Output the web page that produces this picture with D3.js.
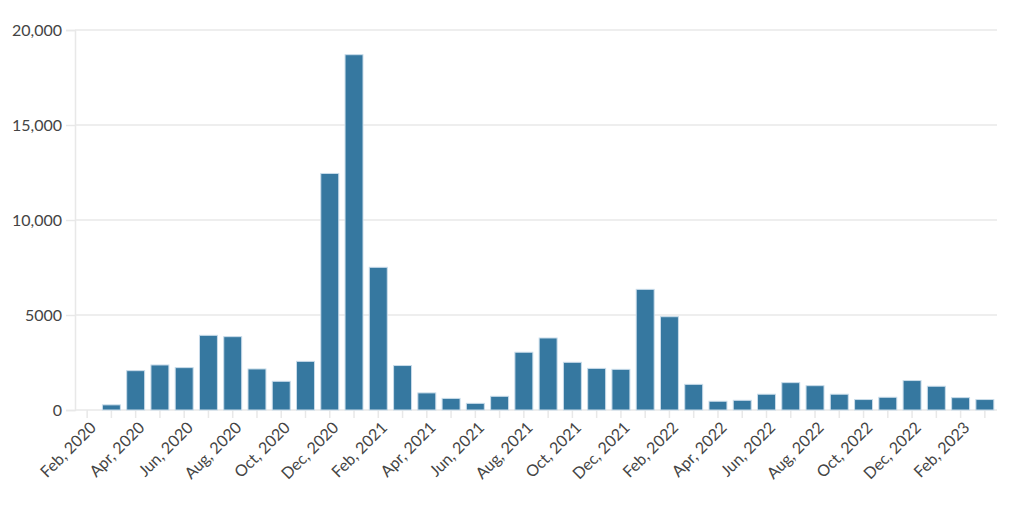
<!DOCTYPE html>
<html>
<head>
<meta charset="utf-8">
<script src="https://cdn.jsdelivr.net/npm/d3@7"></script>
<style>
  body { margin: 0; background: #fff; }
  svg text { font-family: Lato, "Noto Sans", sans-serif; fill: #444; }
</style>
</head>
<body>
<div id="chart"></div>
<script>
// monthly values, Feb 2020 .. Mar 2023
const months = [
  "Feb, 2020", "Mar, 2020", "Apr, 2020", "May, 2020", "Jun, 2020", "Jul, 2020",
  "Aug, 2020", "Sep, 2020", "Oct, 2020", "Nov, 2020", "Dec, 2020", "Jan, 2021",
  "Feb, 2021", "Mar, 2021", "Apr, 2021", "May, 2021", "Jun, 2021", "Jul, 2021",
  "Aug, 2021", "Sep, 2021", "Oct, 2021", "Nov, 2021", "Dec, 2021", "Jan, 2022",
  "Feb, 2022", "Mar, 2022", "Apr, 2022", "May, 2022", "Jun, 2022", "Jul, 2022",
  "Aug, 2022", "Sep, 2022", "Oct, 2022", "Nov, 2022", "Dec, 2022", "Jan, 2023",
  "Feb, 2023", "Mar, 2023"
];
const counts = [
  0, 270, 2070, 2370, 2230, 3930,
  3860, 2160, 1510, 2560, 12450, 18700,
  7510, 2340, 900, 610, 350, 720,
  3040, 3790, 2510, 2190, 2140, 6350,
  4910, 1350, 460, 510, 830, 1440,
  1280, 830, 550, 670, 1550, 1250,
  650, 550
];
const yTicks = [0, 5000, 10000, 15000, 20000];
const yTickLabels = ["0", "5000", "10,000", "15,000", "20,000"];

const width = 1024, height = 508;
const margin = {top: 30, right: 27, bottom: 98, left: 75};

const svg = d3.select("#chart").append("svg")
  .attr("width", width)
  .attr("height", height);

const x = d3.scaleBand()
  .domain(months)
  .range([margin.left, width - margin.right])
  .paddingInner(0.26)
  .paddingOuter(0.13);

const y = d3.scaleLinear()
  .domain([0, 20000])
  .range([height - margin.bottom, margin.top]);

// gridlines + y axis
const yAxis = svg.append("g")
  .attr("transform", `translate(${margin.left},0)`)
  .call(d3.axisLeft(y)
    .tickValues(yTicks)
    .tickFormat((d, i) => yTickLabels[i])
    .tickSize(9)
    .tickPadding(4));
yAxis.select(".domain").attr("stroke", "#e8e8e8").attr("stroke-width", 1.5);
yAxis.selectAll(".tick line").attr("stroke", "#e8e8e8").attr("stroke-width", 1.5);
yAxis.selectAll(".tick text").attr("font-size", 16).attr("fill", "#444");

svg.append("g")
  .selectAll("line")
  .data(yTicks)
  .join("line")
  .attr("x1", margin.left)
  .attr("x2", width - margin.right)
  .attr("y1", d => y(d))
  .attr("y2", d => y(d))
  .attr("stroke", "#e8e8e8")
  .attr("stroke-width", 1.5);

// x axis
const xAxis = svg.append("g")
  .attr("transform", `translate(0,${y(0)})`)
  .call(d3.axisBottom(x)
    .tickSize(8)
    .tickFormat((d, i) => i % 2 === 0 ? d : ""));
xAxis.select(".domain").remove();
xAxis.selectAll(".tick line").attr("stroke", "#e8e8e8").attr("stroke-width", 1.5);
xAxis.selectAll(".tick text")
  .attr("font-size", 16)
  .attr("fill", "#444")
  .attr("text-anchor", "end")
  .attr("dx", "-0.2em")
  .attr("dy", "0.2em")
  .attr("transform", "rotate(-45) translate(-3,6)");

// bars
svg.append("g")
  .selectAll("rect")
  .data(counts)
  .join("rect")
  .attr("x", (d, i) => x(months[i]))
  .attr("width", x.bandwidth())
  .attr("y", d => y(d))
  .attr("height", d => y(0) - y(d))
  .attr("fill", "#3678a0")
  .attr("stroke", "#c9dcea")
  .attr("stroke-width", 1);
</script>
</body>
</html>
